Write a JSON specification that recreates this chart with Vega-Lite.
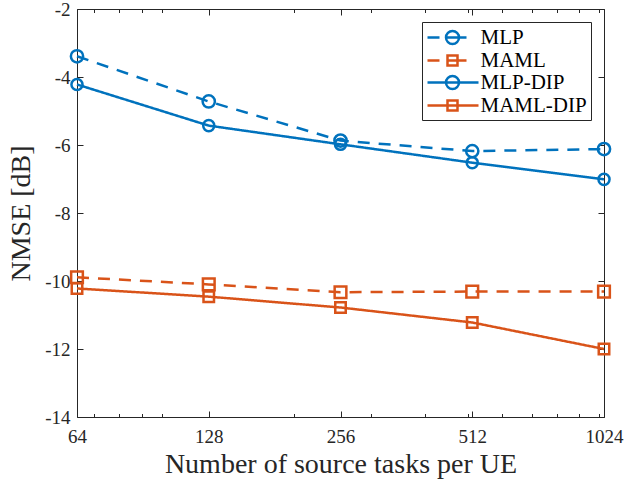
{
  "$schema": "https://vega.github.io/schema/vega-lite/v6.json",
  "width": 527,
  "height": 408,
  "autosize": {"type": "none"},
  "padding": {"left": 77, "top": 9, "right": 21, "bottom": 63},
  "background": "white",
  "config": {
    "view": {"stroke": null},
    "font": "Liberation Serif",
    "axis": {
      "domainColor": "#262626",
      "domainWidth": 1,
      "tickColor": "#262626",
      "tickWidth": 1,
      "grid": false,
      "labelFont": "Liberation Serif",
      "labelFontSize": 19,
      "labelColor": "#262626",
      "titleFont": "Liberation Serif",
      "titleFontSize": 28,
      "titleFontWeight": "normal",
      "titleColor": "#262626"
    },
    "legend": {
      "orient": "top-right",
      "offset": 13,
      "padding": 4,
      "rowPadding": -1,
      "strokeColor": "#262626",
      "fillColor": "white",
      "symbolSize": 400,
      "symbolStrokeWidth": 2.5,
      "symbolOpacity": 1,
      "symbolFillColor": "transparent",
      "labelOffset": 31.5,
      "labelFont": "Liberation Serif",
      "labelFontSize": 21,
      "labelColor": "#000000",
      "labelLimit": 200
    }
  },
  "data": {
    "values": [
      {"tasks": 64, "nmse": -3.39, "series": "MLP"},
      {"tasks": 128, "nmse": -4.72, "series": "MLP"},
      {"tasks": 256, "nmse": -5.87, "series": "MLP"},
      {"tasks": 512, "nmse": -6.18, "series": "MLP"},
      {"tasks": 1024, "nmse": -6.12, "series": "MLP"},
      {"tasks": 64, "nmse": -9.89, "series": "MAML"},
      {"tasks": 128, "nmse": -10.1, "series": "MAML"},
      {"tasks": 256, "nmse": -10.33, "series": "MAML"},
      {"tasks": 512, "nmse": -10.31, "series": "MAML"},
      {"tasks": 1024, "nmse": -10.31, "series": "MAML"},
      {"tasks": 64, "nmse": -4.22, "series": "MLP-DIP"},
      {"tasks": 128, "nmse": -5.43, "series": "MLP-DIP"},
      {"tasks": 256, "nmse": -5.98, "series": "MLP-DIP"},
      {"tasks": 512, "nmse": -6.52, "series": "MLP-DIP"},
      {"tasks": 1024, "nmse": -7.01, "series": "MLP-DIP"},
      {"tasks": 64, "nmse": -10.22, "series": "MAML-DIP"},
      {"tasks": 128, "nmse": -10.46, "series": "MAML-DIP"},
      {"tasks": 256, "nmse": -10.78, "series": "MAML-DIP"},
      {"tasks": 512, "nmse": -11.22, "series": "MAML-DIP"},
      {"tasks": 1024, "nmse": -12.0, "series": "MAML-DIP"}
    ]
  },
  "layer": [
    {
      "mark": {"type": "line", "strokeWidth": 2.5},
      "encoding": {
        "x": {
          "field": "tasks", "type": "quantitative",
          "scale": {"type": "log", "base": 2, "domain": [64, 1024], "nice": false},
          "axis": {
            "orient": "bottom",
            "values": [64, 128, 256, 512, 1024],
            "tickSize": -6,
            "labelPadding": 16,
            "labelExpr": "toString(datum.value)",
            "labelOverlap": false,
            "labelFlush": false,
            "title": "Number of source tasks per UE",
            "titleY": 55,
            "titleBaseline": "alphabetic"
          }
        },
        "y": {
          "field": "nmse", "type": "quantitative",
          "scale": {"domain": [-14, -2], "nice": false, "zero": false},
          "axis": {
            "orient": "left",
            "values": [-14, -12, -10, -8, -6, -4, -2],
            "tickSize": -6,
            "labelPadding": 13,
            "labelExpr": "toString(datum.value)",
            "title": "NMSE [dB]",
            "titleX": -56,
            "titleY": 204,
            "titleBaseline": "middle",
            "titleAngle": -90
          }
        },
        "color": {
          "field": "series", "type": "nominal",
          "scale": {"domain": ["MLP", "MAML", "MLP-DIP", "MAML-DIP"], "range": ["#0072BD", "#D95319", "#0072BD", "#D95319"]},
          "legend": null
        },
        "strokeDash": {
          "field": "series", "type": "nominal",
          "scale": {"domain": ["MLP", "MAML", "MLP-DIP", "MAML-DIP"], "range": [[12, 9], [12, 9], [1, 0], [1, 0]]},
          "legend": null
        }
      }
    },
    {
      "mark": {"type": "point", "filled": false, "strokeWidth": 2.5, "opacity": 1},
      "encoding": {
        "x": {
          "field": "tasks", "type": "quantitative",
          "axis": {"orient": "top", "values": [64, 128, 256, 512, 1024], "tickSize": -6, "labels": false, "title": null}
        },
        "y": {
          "field": "nmse", "type": "quantitative",
          "axis": {"orient": "right", "values": [-14, -12, -10, -8, -6, -4, -2], "tickSize": -6, "labels": false, "title": null}
        },
        "color": {
          "field": "series", "type": "nominal",
          "scale": {"domain": ["MLP", "MAML", "MLP-DIP", "MAML-DIP"], "range": ["#0072BD", "#D95319", "#0072BD", "#D95319"]},
          "legend": null
        },
        "shape": {
          "field": "series", "type": "nominal",
          "scale": {"domain": ["MLP", "MAML", "MLP-DIP", "MAML-DIP"], "range": ["circle", "square", "circle", "square"]},
          "legend": null
        },
        "size": {
          "field": "series", "type": "nominal",
          "scale": {"domain": ["MLP", "MAML", "MLP-DIP", "MAML-DIP"], "range": [150, 110, 150, 110]},
          "legend": null
        }
      }
    },
    {
      "mark": {"type": "point", "filled": false, "strokeWidth": 2.5, "opacity": 0},
      "encoding": {
        "x": {
          "field": "tasks", "type": "quantitative",
          "axis": {"orient": "bottom", "values": [70, 80, 90, 100, 200, 300, 400, 500, 600, 700, 800, 900, 1000], "tickSize": -3.5, "labels": false, "domain": false, "title": null}
        },
        "y": {"field": "nmse", "type": "quantitative", "axis": null},
        "color": {
          "field": "series", "type": "nominal",
          "scale": {"domain": ["MLP", "MAML", "MLP-DIP", "MAML-DIP"], "range": ["#0072BD", "#D95319", "#0072BD", "#D95319"]},
          "legend": {"title": null}
        },
        "shape": {
          "field": "series", "type": "nominal",
          "scale": {
            "domain": ["MLP", "MAML", "MLP-DIP", "MAML-DIP"],
            "range": [
              "M-1,0H0.2M0.85,0H2.9M0.85,0A0.65,0.65,0,1,1,2.15,0A0.65,0.65,0,1,1,0.85,0Z",
              "M-1,0H0.2M1,0H2.9M1,-0.5H2V0.5H1Z",
              "M-1,0H4.1M0.85,0A0.65,0.65,0,1,1,2.15,0A0.65,0.65,0,1,1,0.85,0Z",
              "M-1,0H4.1M1,-0.5H2V0.5H1Z"
            ]
          },
          "legend": {"title": null}
        }
      }
    },
    {
      "mark": {"type": "point", "opacity": 0},
      "encoding": {
        "x": {
          "field": "tasks", "type": "quantitative",
          "axis": {"orient": "top", "values": [70, 80, 90, 100, 200, 300, 400, 500, 600, 700, 800, 900, 1000], "tickSize": -3.5, "labels": false, "domain": false, "title": null}
        },
        "y": {"field": "nmse", "type": "quantitative", "axis": null}
      }
    }
  ],
  "resolve": {
    "axis": {"x": "independent", "y": "independent"},
    "scale": {"shape": "independent", "color": "independent"}
  }
}
